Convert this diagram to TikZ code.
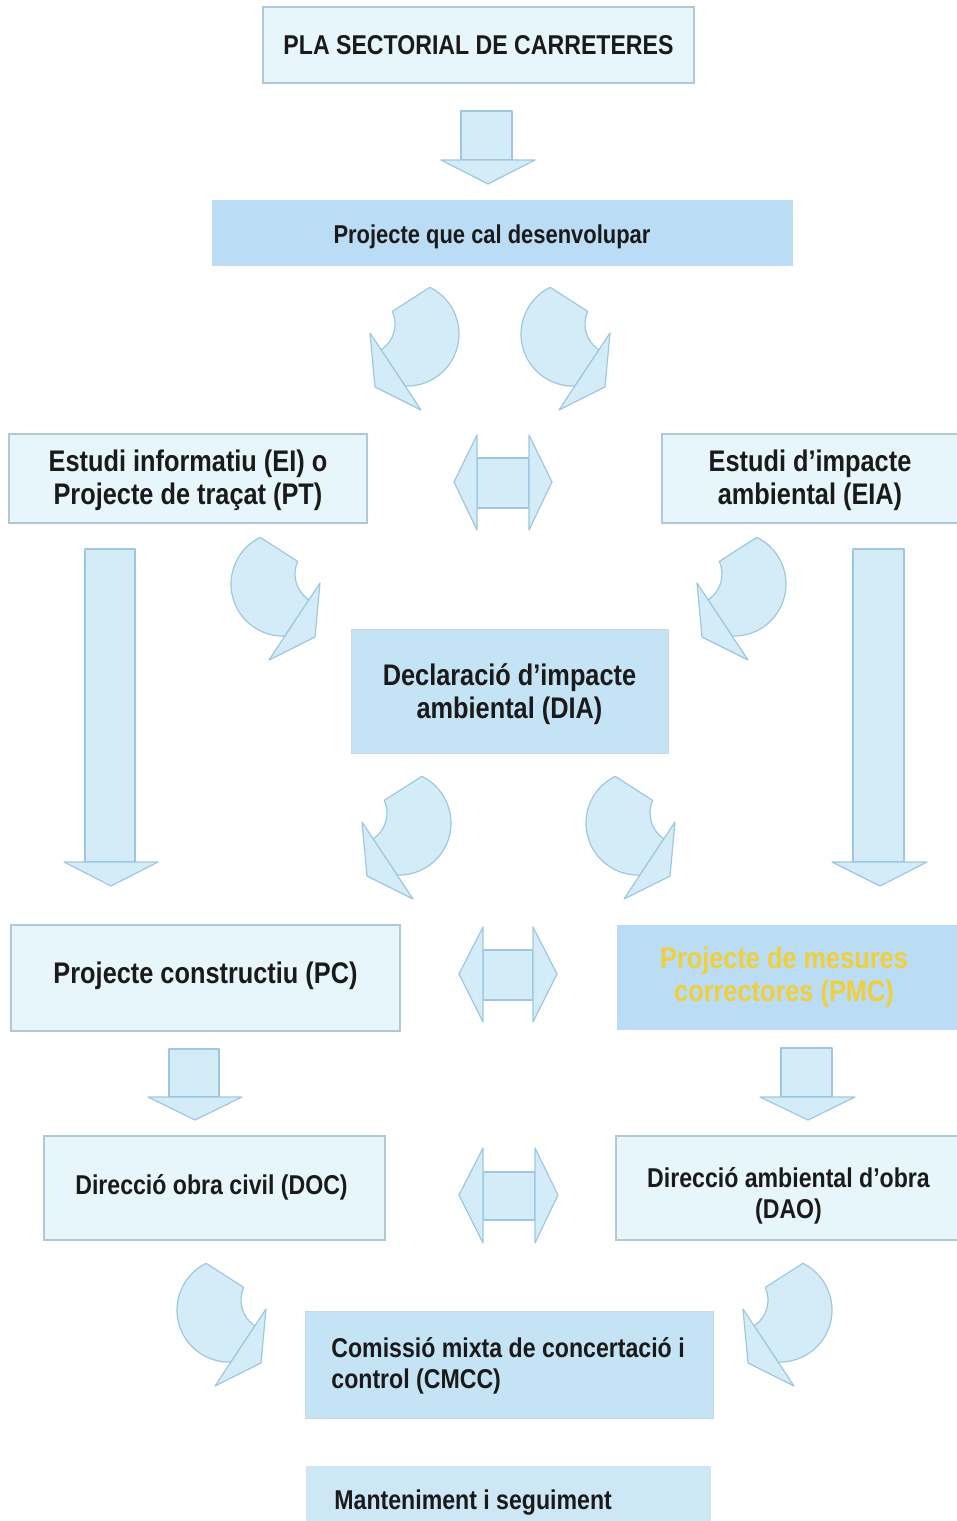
\documentclass[tikz,border=0pt]{standalone}
\usepackage{fontspec}
\setmainfont{Liberation Sans}[FakeStretch=0.85]
\definecolor{lightfill}{HTML}{E7F6FB}
\definecolor{boxline}{HTML}{AFC9D6}
\definecolor{bluefill}{HTML}{BADCF4}
\definecolor{bluefillb}{HTML}{C4E3F5}
\definecolor{arrfill}{HTML}{D3ECF8}
\definecolor{arrline}{HTML}{9FC8E0}
\definecolor{txtcol}{HTML}{1A1A1A}
\definecolor{yel}{HTML}{F0CF3A}
\newcommand{\bigfont}{\bfseries\fontsize{14.9}{16.5}\selectfont}
\newcommand{\midfont}{\bfseries\fontsize{13.6}{15.5}\selectfont}
\newcommand{\smlfont}{\bfseries\fontsize{12.9}{15}\selectfont}
\begin{document}
\begin{tikzpicture}[x=0.5pt,y=-0.5pt,
  lbox/.style={draw=boxline,fill=lightfill,line width=0.6pt,inner sep=0pt,align=center,text=txtcol},
  bbox/.style={draw=boxline!70,fill=bluefill,line width=0.5pt,inner sep=0pt,align=center,text=txtcol},
  txt/.style={inner sep=0pt,align=center,text=txtcol},
  ltxt/.style={inner sep=0pt,align=left,text=txtcol,anchor=west},
  arr/.style={fill=arrfill,draw=arrline,line width=0.6pt,line join=round},
  curvA/.pic={
    \path[arr] (429.8,287.3) arc[start angle=-64,end angle=92,radius=52]
      -- (380.9,350) arc[start angle=57,end angle=-24,radius=31] -- cycle;
    \path[arr] (370,333) -- (375,387) -- (421,410) -- cycle;
  }
]
\useasboundingbox (0,0) rectangle (957,1521);
\fill[white] (0,0) rectangle (957,1521);

% ---- boxes ----
\node[lbox,minimum width=215.5pt,minimum height=38pt,font=\midfont] (psc) at (478.5,45) {PLA SECTORIAL DE CARRETERES};
\node[bbox,draw=none,minimum width=290.5pt,minimum height=33pt] (pqd) at (502.5,233) {};
\node[txt,font=\smlfont] (pqdt) at (492,237) {Projecte que cal desenvolupar};

\node[lbox,minimum width=179pt,minimum height=44.5pt] (ei) at (188,478.5) {};
\node[txt,font=\bigfont] (eit) at (188,480) {Estudi informatiu (EI) o\\Projecte de traçat (PT)};
\node[lbox,minimum width=150pt,minimum height=44.5pt] (eia) at (812,478.5) {};
\node[txt,font=\bigfont] (eiat) at (810,480) {Estudi d’impacte\\ambiental (EIA)};

\node[bbox,fill=bluefillb,minimum width=158.5pt,minimum height=62pt] (dia) at (509.5,691) {};
\node[txt,font=\bigfont] (diat) at (509.5,694) {Declaració d’impacte\\ambiental (DIA)};

\node[lbox,minimum width=194.5pt,minimum height=53pt] (pc) at (205.5,978) {};
\node[txt,font=\bigfont] (pct) at (205.5,976) {Projecte constructiu (PC)};
\node[bbox,draw=none,minimum width=172.5pt,minimum height=52.5pt] (pmc) at (789.5,977.5) {};
\node[txt,font=\bigfont,text=yel] (pmct) at (784,977) {Projecte de mesures\\correctores (PMC)};

\node[lbox,minimum width=170.5pt,minimum height=52pt] (doc) at (214.5,1188) {};
\node[txt,font=\midfont] (doct) at (211.5,1187) {Direcció obra civil (DOC)};
\node[lbox,minimum width=173pt,minimum height=52pt] (dao) at (789,1188) {};
\node[txt,font=\midfont] (daot) at (788.5,1196) {Direcció ambiental d’obra\\(DAO)};

\node[bbox,fill=bluefillb,minimum width=204pt,minimum height=53.5pt] (cmcc) at (509,1364.5) {};
\node[ltxt,font=\midfont] (cmcct) at (331,1366) {Comissió mixta de concertació i\\control (CMCC)};
\node[bbox,draw=none,fill=bluefillb!85!white,minimum width=202.5pt,minimum height=37pt] (mant) at (508.5,1503) {};
\node[ltxt,font=\midfont] (mantt) at (334,1503) {Manteniment i seguiment};

% ---- straight down arrows ----
\path[arr] (461,111) rectangle (512,160);
\path[arr] (441,160) -- (535,160) -- (488,184) -- cycle;
\path[arr] (85,549) rectangle (135,862);
\path[arr] (64,862) -- (158,862) -- (111,886) -- cycle;
\path[arr] (853,549) rectangle (904,862);
\path[arr] (832,862) -- (927,862) -- (880,886) -- cycle;
\path[arr] (169,1049) rectangle (219,1097);
\path[arr] (148,1097) -- (242,1097) -- (195,1120) -- cycle;
\path[arr] (781,1048) rectangle (832,1097);
\path[arr] (760,1097) -- (855,1097) -- (808,1120) -- cycle;

% ---- double arrows ----
\path[arr] (477,458) rectangle (529,508);
\path[arr] (477,435) -- (454,482) -- (477,530) -- cycle;
\path[arr] (529,435) -- (552,482) -- (529,530) -- cycle;
\path[arr] (483,950) rectangle (533,1000);
\path[arr] (483,927) -- (459,974) -- (483,1022) -- cycle;
\path[arr] (533,927) -- (557,974) -- (533,1022) -- cycle;
\path[arr] (483,1172) rectangle (535,1220);
\path[arr] (483,1148) -- (459,1195) -- (483,1243) -- cycle;
\path[arr] (535,1148) -- (558,1195) -- (535,1243) -- cycle;

% ---- curved arrows ----
\pic at (0,0) {curvA};
\pic[xscale=-1] at (980,0) {curvA};
\pic[xscale=-1] at (690,250) {curvA};
\pic at (327,250) {curvA};
\pic at (-8,489) {curvA};
\pic[xscale=-1] at (1045,489) {curvA};
\pic[xscale=-1] at (636,976) {curvA};
\pic at (373,976) {curvA};
\end{tikzpicture}
\end{document}
